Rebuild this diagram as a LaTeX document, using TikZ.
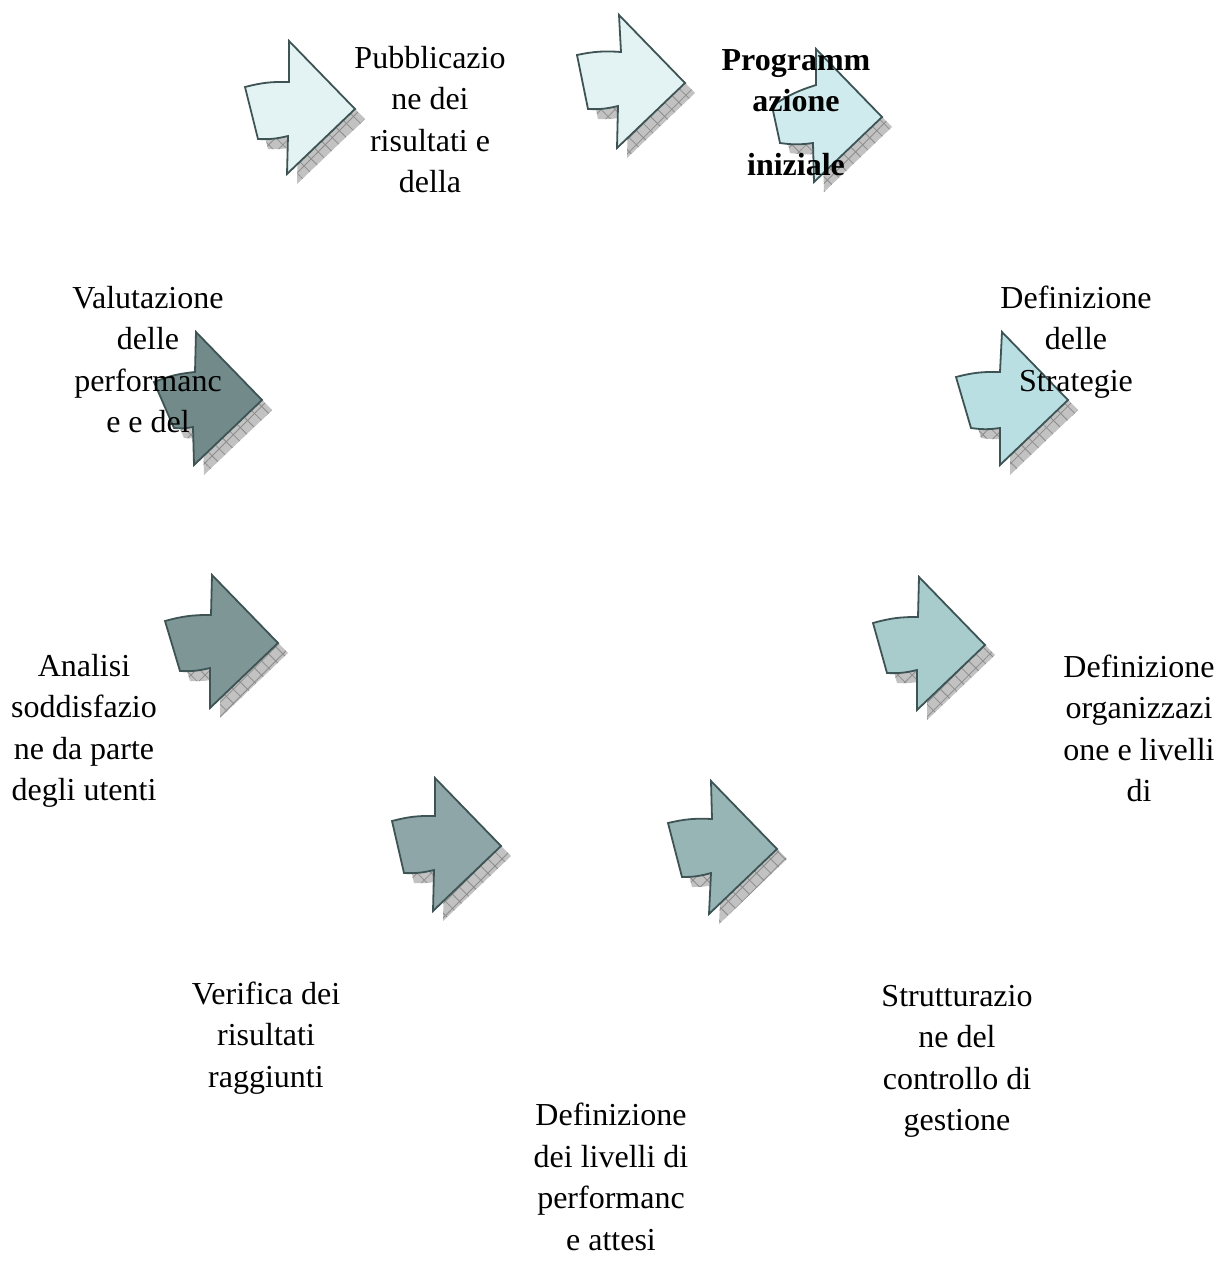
\documentclass[tikz,border=0pt]{standalone}
\usepackage{fontspec}
\setmainfont{Liberation Serif}
\usetikzlibrary{patterns.meta}
\definecolor{edge}{HTML}{3E5454}
\definecolor{shadowgray}{HTML}{C2C2C2}
\definecolor{hatch}{HTML}{8C8C8C}
\definecolor{cA}{HTML}{E3F3F3}
\definecolor{cB}{HTML}{CFEBEE}
\definecolor{cC}{HTML}{BADFE3}
\definecolor{cD}{HTML}{A8CBCC}
\definecolor{cE}{HTML}{98B5B6}
\definecolor{cF}{HTML}{8EA6A8}
\definecolor{cG}{HTML}{7E9696}
\definecolor{cH}{HTML}{728A8A}
\tikzset{
  arrowbody/.style={draw=edge, line width=1.8pt, line join=miter},
  shadowfill/.style={fill=shadowgray},
  hatchA/.style={pattern={Lines[angle=45,distance=10pt,line width=0.8pt]}, pattern color=hatch},
  hatchB/.style={pattern={Lines[angle=-45,distance=10pt,line width=0.8pt]}, pattern color=hatch},
  label/.style={font=\fontsize{32}{41.5}\selectfont, align=center, anchor=base, inner sep=0pt},
}
% #1 name, #2 tip, #3 colour, #4 tail top-left, #5 notch top, #6 tail bottom-left, #7 notch bottom
\newcommand\cycarrow[7]{%
  \begin{scope}[shift={#2}]
    \coordinate (#1) at (0,0);
    \foreach \st in {shadowfill,hatchA,hatchB}{
      \path[\st, shift={(10,10)}] (0,0) -- (-68,65) -- #7 to[bend left=8] #6 -- #4 to[bend left=8] #5 -- (-66,-68) -- cycle;
    }
    \path[arrowbody, fill=#3] (0,0) -- (-68,65) -- #7 to[bend left=8] #6 -- #4 to[bend left=8] #5 -- (-66,-68) -- cycle;
  \end{scope}}
\begin{document}
\begin{tikzpicture}[x=1pt,y=-1pt]
\useasboundingbox (0,0) rectangle (1230,1262);
\fill[white] (0,0) rectangle (1230,1262);

\cycarrow{a1}{(355,109)}{cA}{(-110,-22)}{(-66,-27)}{(-97,30)}{(-67,27)}
\cycarrow{a2}{(685,83)}{cA}{(-108,-28)}{(-64,-31)}{(-97,26)}{(-67,23)}
\cycarrow{a3}{(882,117)}{cB}{(-110,-11)}{(-66,-32)}{(-102,26)}{(-69,26)}
\cycarrow{a4}{(1068,400)}{cC}{(-112,-23)}{(-68,-28)}{(-97,28)}{(-68,28)}
\cycarrow{a5}{(985,645)}{cD}{(-112,-22)}{(-67,-28)}{(-98,28)}{(-68,25)}
\cycarrow{a6}{(777,849)}{cE}{(-109,-26)}{(-65,-30)}{(-95,28)}{(-66,24)}
\cycarrow{a7}{(501,846)}{cF}{(-109,-25)}{(-66,-30)}{(-97,27)}{(-67,24)}
\cycarrow{a8}{(278,643)}{cG}{(-113,-22)}{(-67,-28)}{(-98,28)}{(-68,25)}
\cycarrow{a9}{(262,400)}{cH}{(-108,-18)}{(-67,-28)}{(-88,28)}{(-69,27)}

\node[label] (pub) at (430,192.5) {Pubblicazio\\ne dei\\risultati e\\della};
\node[label, font=\fontsize{32}{41.5}\selectfont\bfseries] (prog) at (796,175) {Programm\\azione\\[22pt]iniziale};
\node[label] (valut) at (148,432.5) {Valutazione\\delle\\performanc\\e e del};
\node[label] (strat) at (1076,391) {Definizione\\delle\\Strategie};
\node[label] (anal) at (84,800.5) {Analisi\\soddisfazio\\ne da parte\\degli utenti};
\node[label] (organ) at (1139,801.5) {Definizione\\organizzazi\\one e livelli\\di};
\node[label] (verif) at (266,1087) {Verifica dei\\risultati\\raggiunti};
\node[label] (strut) at (957,1130.5) {Strutturazio\\ne del\\controllo di\\gestione};
\node[label] (livel) at (611,1250) {Definizione\\dei livelli di\\performanc\\e attesi};
\end{tikzpicture}
\end{document}
